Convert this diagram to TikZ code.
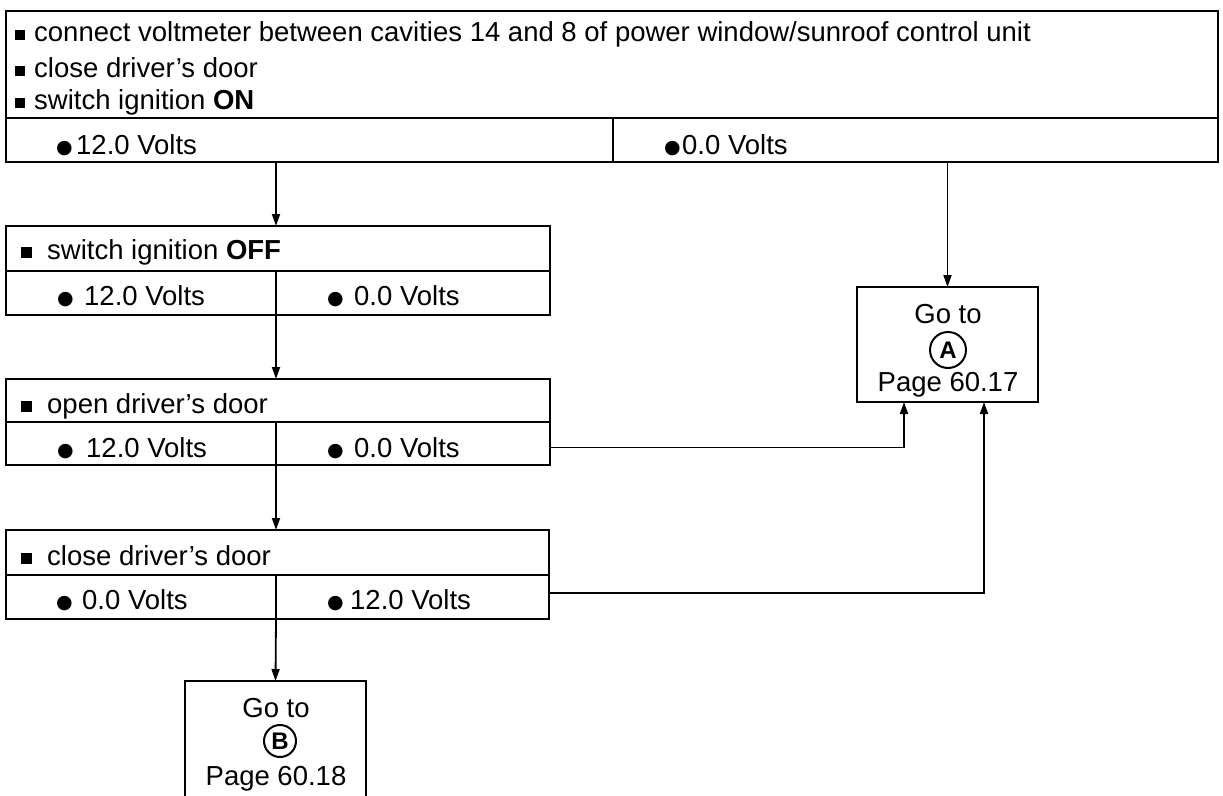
\documentclass[tikz,border=0pt]{standalone}
\usepackage{fontspec}
\setmainfont{Liberation Sans}
\newfontfamily\symf{DejaVu Sans}
\usetikzlibrary{arrows.meta}
% square bullet: #1 size, #2 gap
\newcommand{\sqb}[2]{\rule[1pt]{#1}{#1}\hspace{#2}}
% round bullet: #1 gap
\newcommand{\dotb}[1]{\makebox[11pt][l]{\raisebox{0.5pt}{\symf\fontsize{19}{19}\selectfont ●}}\hspace{#1}}
\begin{document}
\begin{tikzpicture}[x=1pt,y=-1pt,
  font=\fontsize{27.5}{33}\selectfont,
  frame/.style={draw, line width=2pt, inner sep=0pt, outer sep=0pt, anchor=north west},
  lbl/.style={anchor=base west, inner sep=0pt},
  ctr/.style={anchor=base, inner sep=0pt},
  conn/.style={line width=1.8pt, -{Triangle[length=12pt,width=8pt]}},
  circ/.style={circle, draw, line width=2pt, inner sep=0pt, font=\fontsize{24}{24}\selectfont\bfseries}]
\useasboundingbox (0,0) rectangle (1223,795);

% top box
\node[frame, minimum width=1212pt, minimum height=107pt] (h1) at (6,11) {};
\node[frame, minimum width=607pt, minimum height=44pt] (a1) at (6,118) {};
\node[frame, minimum width=605pt, minimum height=44pt] (b1) at (613,118) {};
\node[lbl] (t1a) at (15,41) {\sqb{10pt}{9pt}connect voltmeter between cavities 14 and 8 of power window/sunroof control unit};
\node[lbl] (t1b) at (15,77) {\sqb{10pt}{9pt}close driver's door};
\node[lbl] (t1c) at (15,109) {\sqb{10pt}{9pt}switch ignition \textbf{ON}};
\node[lbl] (v1a) at (56,154) {\dotb{9pt}12.0 Volts};
\node[lbl] (v1b) at (664,154) {\dotb{7pt}0.0 Volts};

% box 2
\node[frame, minimum width=544pt, minimum height=45pt] (h2) at (6,226) {};
\node[frame, minimum width=270pt, minimum height=44pt] (a2) at (6,271) {};
\node[frame, minimum width=274pt, minimum height=44pt] (b2) at (276,271) {};
\node[lbl] (t2) at (21,259) {\sqb{11pt}{15pt}switch ignition \textbf{OFF}};
\node[lbl] (v2a) at (57,305) {\dotb{16pt}12.0 Volts};
\node[lbl] (v2b) at (327,305) {\dotb{16pt}0.0 Volts};

% box 3
\node[frame, minimum width=544pt, minimum height=43pt] (h3) at (6,379) {};
\node[frame, minimum width=270pt, minimum height=43pt] (a3) at (6,422) {};
\node[frame, minimum width=274pt, minimum height=43pt] (b3) at (276,422) {};
\node[lbl] (t3) at (21,413) {\sqb{11pt}{15pt}open driver's door};
\node[lbl] (v3a) at (57,457) {\dotb{18pt}12.0 Volts};
\node[lbl] (v3b) at (327,457) {\dotb{16pt}0.0 Volts};

% box 4
\node[frame, minimum width=543pt, minimum height=45pt] (h4) at (6,530) {};
\node[frame, minimum width=270pt, minimum height=44pt] (a4) at (6,575) {};
\node[frame, minimum width=273pt, minimum height=44pt] (b4) at (276,575) {};
\node[lbl] (t4) at (21,565) {\sqb{11pt}{15pt}close driver's door};
\node[lbl] (v4a) at (56,609) {\dotb{15pt}0.0 Volts};
\node[lbl] (v4b) at (327,609) {\dotb{12pt}12.0 Volts};

% Go to A
\node[frame, minimum width=181pt, minimum height=115pt] (gA) at (857,287) {};
\node[ctr] (gAt) at (948,323) {Go to};
\node[circ, minimum size=36pt] (gAc) at (948,350) {A};
\node[ctr] (gAp) at (948,391) {Page 60.17};

% Go to B
\node[frame, minimum width=181pt, minimum height=122pt] (gB) at (185,681) {};
\node[ctr] (gBt) at (276,717) {Go to};
\node[circ, minimum size=32pt] (gBc) at (280,741) {B};
\node[ctr] (gBp) at (276,785) {Page 60.18};

% connectors
\draw[conn] (a1.south -| a2.east) -- (h2.north -| a2.east);
\draw[conn] (a2.south east) -- (h3.north -| a3.east);
\draw[conn] (a3.south east) -- (h4.north -| a4.east);
\draw[conn] (a4.south east) -- (gB.north);
\draw[conn] (b1.south -| gA.north) -- (gA.north);
\coordinate (c3) at ([yshift=-4pt]b3.east);
\coordinate (c4) at ([yshift=4pt]b4.east);
\coordinate (e3) at (904,402);
\coordinate (e4) at (984,402);
\draw[conn] (c3) -| (e3);
\draw[conn] (c4) -| (e4);
\end{tikzpicture}
\end{document}
